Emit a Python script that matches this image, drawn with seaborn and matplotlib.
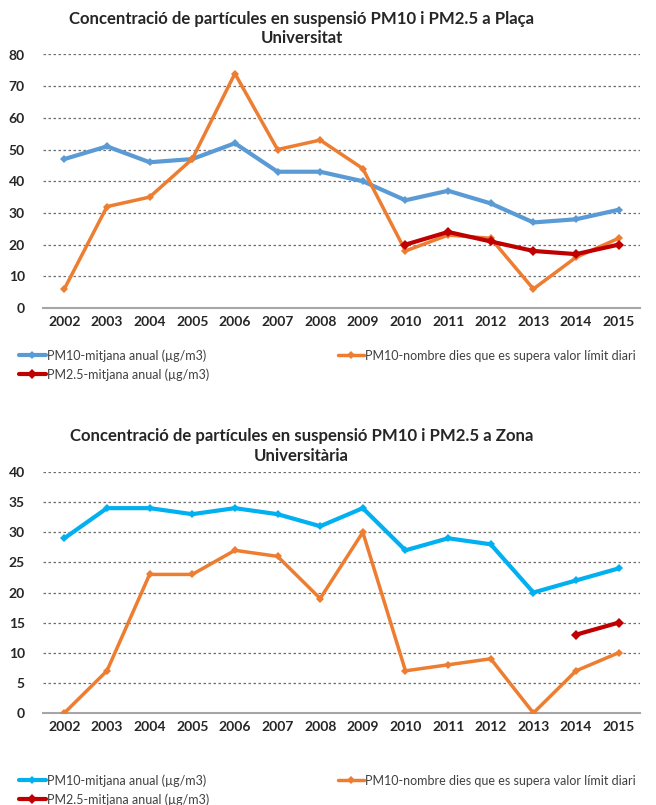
import numpy as np
import pandas as pd
import matplotlib
matplotlib.use("Agg")
import matplotlib.pyplot as plt
import seaborn as sns

# ==========================================
# Dades
# ==========================================
years = [2002, 2003, 2004, 2005, 2006, 2007, 2008, 2009, 2010, 2011, 2012, 2013, 2014, 2015]

# Plaça Universitat
pu_pm10_mean = [47, 51, 46, 47, 52, 43, 43, 40, 34, 37, 33, 27, 28, 31]
pu_pm10_days = [6, 32, 35, 47, 74, 50, 53, 44, 18, 23, 22, 6, 16, 22]
pu_pm25_years = [2010, 2011, 2012, 2013, 2014, 2015]
pu_pm25_mean = [20, 24, 21, 18, 17, 20]

# Zona Universitària
zu_pm10_mean = [29, 34, 34, 33, 34, 33, 31, 34, 27, 29, 28, 20, 22, 24]
zu_pm10_days = [0, 7, 23, 23, 27, 26, 19, 30, 7, 8, 9, 0, 7, 10]
zu_pm25_years = [2014, 2015]
zu_pm25_mean = [13, 15]

label_mean = "PM10-mitjana anual (µg/m3)"
label_days = "PM10-nombre dies que es supera valor límit diari"
label_pm25 = "PM2.5-mitjana anual (µg/m3)"

sns.set_style("white")
plt.rcParams['font.family'] = ['Lato', 'DejaVu Sans']

fig = plt.figure(figsize=(6.56, 8.05), dpi=100)

panels = [
    dict(rect=[43/656, 1-308/805, 597/656, 253.5/805],
         title="Concentració de partícules en suspensió PM10 i PM2.5 a Plaça\nUniversitat",
         mean=pu_pm10_mean, days=pu_pm10_days, p25y=pu_pm25_years, p25=pu_pm25_mean,
         blue='#5B9BD5', ymax=80, step=10, legend_y=1-338/805),
    dict(rect=[43/656, 1-713/805, 597/656, 241/805],
         title="Concentració de partícules en suspensió PM10 i PM2.5 a Zona\nUniversitària",
         mean=zu_pm10_mean, days=zu_pm10_days, p25y=zu_pm25_years, p25=zu_pm25_mean,
         blue='#00B0F0', ymax=40, step=5, legend_y=1-763/805),
]

pos = np.arange(len(years))

for p in panels:
    ax = fig.add_axes(p['rect'])
    p25_pos = [years.index(y) for y in p['p25y']]

    sns.lineplot(x=pos, y=p['mean'], ax=ax, color=p['blue'], lw=3, marker='D',
                 markersize=4, markeredgewidth=0, label=label_mean, zorder=3)
    sns.lineplot(x=pos, y=p['days'], ax=ax, color='#ED7D31', lw=2.5, marker='D',
                 markersize=4, markeredgewidth=0, label=label_days, zorder=3)
    sns.lineplot(x=p25_pos, y=p['p25'], ax=ax, color='#C00000', lw=3, marker='D',
                 markersize=5, markeredgewidth=0, label=label_pm25, zorder=4)

    ax.set_xlim(-0.5, len(years) - 0.5)
    ax.set_ylim(0, p['ymax'])
    ax.set_yticks(np.arange(0, p['ymax'] + 1, p['step']))
    ax.set_xticks(pos)
    ax.set_xticklabels([str(y) for y in years])
    ax.tick_params(axis='both', length=0, labelsize=10, colors='#262626')
    ax.tick_params(axis='x', pad=6)
    ax.tick_params(axis='y', pad=13)
    for lab in ax.get_xticklabels() + ax.get_yticklabels():
        lab.set_fontweight('bold')

    # línies de quadrícula puntejades
    for yv in np.arange(p['step'], p['ymax'] + 1, p['step']):
        ax.axhline(yv, color='#6E6E6E', lw=0.9, ls=(0, (2, 2)), zorder=1)

    for s in ['top', 'right', 'left']:
        ax.spines[s].set_visible(False)
    ax.spines['bottom'].set_color('#A6A6A6')
    ax.spines['bottom'].set_linewidth(1.5)

    ax.set_title(p['title'], fontsize=12.1, fontweight='bold', color='#262626',
                 x=0.433, pad=8, linespacing=1.28)

    handles, labels = ax.get_legend_handles_labels()
    ax.get_legend().remove()
    order = [0, 2, 1]
    fig.legend([handles[i] for i in order], [labels[i] for i in order],
               loc='upper left', bbox_to_anchor=(8/656, p['legend_y']), ncol=2,
               frameon=False, fontsize=9, handlelength=2.1, handletextpad=0.1,
               columnspacing=10.3, labelspacing=0.5, labelcolor='#404040')

plt.savefig("out.png", dpi=100)
